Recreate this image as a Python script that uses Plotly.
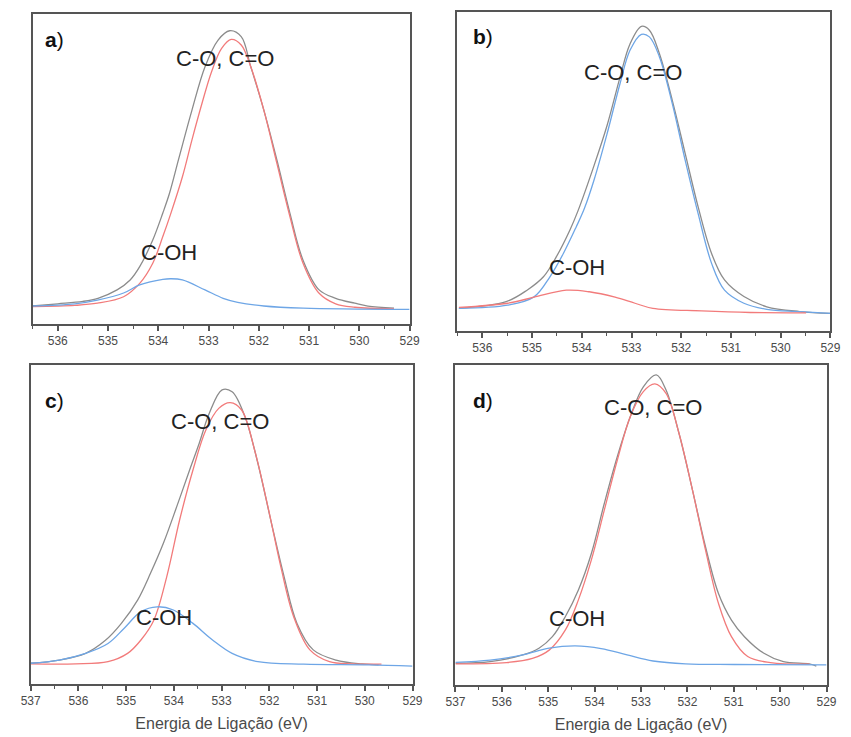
import plotly.graph_objects as go

# ---------------- Panel a ----------------
a_exp_E = [536.5, 536.0, 535.5, 535.2, 534.82, 534.56, 534.37, 534.11, 533.91, 533.78, 533.59, 533.33,
           533.07, 532.81, 532.58, 532.35, 532.16, 531.9, 531.64, 531.38, 531.12, 530.8, 530.47,
           530.09, 529.83, 529.31]
a_exp_I = [5.8, 6.5, 7.3, 8.3, 11.0, 14.2, 18.5, 27.1, 35.8, 42.0, 53.5, 69.0, 83.0, 91.6, 94.6, 92.7,
           83.0, 69.0, 52.9, 35.7, 20.6, 11.0, 8.3, 6.7, 5.8, 5.1]
a_co_E = [536.5, 535.66, 535.21, 534.69, 534.37, 534.11, 533.91, 533.75, 533.52, 533.33, 533.13, 532.94,
          532.74, 532.55, 532.35, 532.16, 531.9, 531.64, 531.38, 531.12, 530.8, 530.47, 530.09, 529.31]
a_co_I = [5.6, 6.0, 6.7, 8.8, 13.1, 19.6, 28.2, 35.7, 47.5, 59.4, 71.2, 81.4, 88.9, 91.8, 90.0, 83.0,
          69.0, 51.8, 34.6, 19.6, 9.9, 6.5, 5.4, 4.9]
a_oh_E = [536.51, 535.66, 535.21, 534.69, 534.37, 533.91, 533.75, 533.52, 533.07, 532.71, 532.42, 531.9,
          531.12, 529.0]
a_oh_I = [5.8, 6.5, 7.7, 10.0, 12.6, 14.4, 14.6, 14.2, 11.0, 8.3, 7.0, 5.8, 5.1, 4.7]

# ---------------- Panel b ----------------
b_exp_E = [536.47, 535.52, 535.1, 534.77, 534.51, 534.24, 534.08, 533.75, 533.49, 533.23, 533.03, 532.8,
           532.64, 532.44, 532.18, 531.92, 531.66, 531.39, 531.13, 530.74, 530.28, 529.62, 529.0]
b_exp_I = [7.1, 9.2, 12.8, 17.0, 23.3, 31.6, 37.5, 52.0, 64.5, 79.6, 90.0, 95.5, 94.3, 87.0, 72.3, 55.6,
           38.9, 24.3, 16.0, 10.8, 7.6, 6.1, 5.5]
b_co_E = [536.47, 535.49, 534.96, 534.64, 534.37, 534.11, 533.95, 533.75, 533.49, 533.23, 533.03, 532.8,
          532.64, 532.44, 532.18, 531.92, 531.66, 531.39, 531.13, 530.74, 530.28, 529.62, 529.0]
b_co_I = [7.1, 8.1, 10.7, 17.0, 24.3, 32.7, 38.3, 47.5, 61.9, 77.6, 88.0, 93.0, 92.2, 86.0, 71.3, 53.5,
          36.8, 21.2, 12.8, 8.7, 6.8, 6.1, 5.5]
b_oh_E = [536.47, 535.49, 534.96, 534.31, 533.85, 533.33, 532.93, 532.57, 531.59, 530.61, 529.49]
b_oh_I = [7.4, 8.7, 10.6, 12.8, 12.3, 10.6, 8.7, 7.1, 6.3, 5.8, 5.7]

# ---------------- Panel c ----------------
c_exp_E = [537.0, 536.4, 535.85, 535.44, 535.1, 534.76, 534.49, 534.22, 533.94, 533.67, 533.47, 533.26,
           532.99, 532.78, 532.51, 532.24, 531.97, 531.69, 531.42, 531.08, 530.6, 530.06, 529.71]
c_exp_I = [6.5, 7.5, 9.6, 13.6, 19.0, 26.3, 34.7, 44.1, 55.6, 67.1, 75.4, 84.8, 92.2, 91.6, 83.8, 69.2,
           51.4, 33.6, 19.0, 10.7, 7.5, 6.3, 6.0]
c_co_E = [537.0, 536.06, 535.38, 534.97, 534.69, 534.42, 534.15, 533.88, 533.6, 533.33, 533.06, 532.82,
          532.58, 532.31, 532.03, 531.76, 531.49, 531.15, 530.74, 530.26, 529.65]
c_co_I = [6.3, 6.3, 7.0, 9.6, 13.8, 20.0, 33.6, 51.4, 67.1, 79.6, 86.4, 88.2, 85.9, 73.4, 55.6, 36.8,
          21.1, 10.7, 7.0, 6.3, 6.2]
c_oh_E = [537.0, 536.4, 535.85, 535.38, 535.04, 534.69, 534.35, 534.01, 533.6, 533.19, 532.78, 532.24,
          531.28, 529.92, 529.0]
c_oh_I = [6.5, 7.5, 9.6, 12.7, 17.5, 22.7, 24.2, 23.2, 19.0, 13.8, 9.6, 7.0, 6.2, 6.0, 5.6]

# ---------------- Panel d ----------------
d_exp_E = [537.0, 536.25, 535.55, 535.2, 534.91, 534.63, 534.35, 534.07, 533.79, 533.51, 533.23, 532.95,
           532.67, 532.46, 532.18, 531.89, 531.61, 531.33, 531.05, 530.77, 530.35, 529.93, 529.37, 529.22]
d_exp_I = [6.8, 7.3, 9.4, 11.5, 15.1, 21.4, 29.7, 41.1, 56.8, 71.4, 83.9, 93.2, 96.9, 92.2, 78.6, 60.9,
           43.2, 28.6, 20.3, 15.1, 9.9, 7.3, 6.6, 5.9]
d_co_E = [537.0, 535.9, 535.34, 534.98, 534.63, 534.35, 534.07, 533.79, 533.51, 533.23, 532.95, 532.7,
          532.46, 532.18, 531.89, 531.61, 531.33, 531.05, 530.7, 530.21, 529.37]
d_co_I = [6.6, 7.0, 8.3, 10.9, 17.2, 26.6, 39.1, 54.7, 70.3, 83.9, 91.7, 94.1, 91.1, 78.6, 60.9, 42.2,
          25.5, 15.1, 8.9, 7.0, 6.5]
d_oh_E = [537.0, 536.25, 535.55, 534.98, 534.42, 533.86, 533.3, 532.74, 532.04, 530.98, 529.0]
d_oh_I = [7.1, 7.8, 9.4, 11.5, 12.2, 11.4, 9.4, 7.5, 6.6, 6.4, 6.3]

panel_letters = ["a", "b", "c", "d"]
peak_main = "C-O, C=O"
peak_oh = "C-OH"
x_title = "Energia de Ligação (eV)"
x_ranges = [[536.5, 529], [536.5, 529], [537, 529], [537, 529]]

GRAY = "#8c8c8c"
RED = "#f27b7b"
BLUE = "#6ea6e6"

W, H = 851, 737
OFF = 8  # page body margin of the browser
# pixel boxes in the window (left, top, right, bottom)
boxes = [(23, 14, 409, 324), (458, 12, 840, 331), (21, 365, 412, 684), (456, 365, 836, 685)]


def px_x(p):
    return (p - OFF) / W


def px_y(p):
    return 1 - (p - OFF) / H


fig = go.Figure()

curves = [
    [(a_exp_E, a_exp_I, GRAY), (a_co_E, a_co_I, RED), (a_oh_E, a_oh_I, BLUE)],
    [(b_exp_E, b_exp_I, GRAY), (b_co_E, b_co_I, BLUE), (b_oh_E, b_oh_I, RED)],
    [(c_exp_E, c_exp_I, GRAY), (c_co_E, c_co_I, RED), (c_oh_E, c_oh_I, BLUE)],
    [(d_exp_E, d_exp_I, GRAY), (d_co_E, d_co_I, RED), (d_oh_E, d_oh_I, BLUE)],
]

AX = "#555555"
FONT = "Liberation Sans, Arial"
for i, (box, cs, xr) in enumerate(zip(boxes, curves, x_ranges)):
    n = "" if i == 0 else str(i + 1)
    for E, I, col in cs:
        fig.add_trace(go.Scatter(x=E, y=I, mode="lines", line=dict(color=col, width=1.3, shape="spline"),
                                 xaxis="x" + n, yaxis="y" + n, showlegend=False, hoverinfo="skip"))
    l, t, r, b = box
    fig.layout["xaxis" + n] = dict(
        domain=[px_x(l), px_x(r)], anchor="y" + n, range=xr, dtick=1, tick0=529,
        ticks="outside", ticklen=5, tickwidth=1.5, tickcolor=AX,
        minor=dict(dtick=0.5, tick0=529, ticks="outside", ticklen=3, tickwidth=1.2, tickcolor=AX),
        showline=True, linecolor=AX, linewidth=1.5, mirror=True,
        showgrid=False, zeroline=False,
        tickfont=dict(family=FONT, size=12, color="#4a4a4a"),
        title=dict(text=x_title if i >= 2 else "", standoff=11,
                   font=dict(family=FONT, size=16, color="#4a4a4a")),
    )
    fig.layout["yaxis" + n] = dict(
        domain=[px_y(b), px_y(t)], anchor="x" + n, range=[0, 100],
        showticklabels=False, ticks="", showgrid=False, zeroline=False,
        showline=True, linecolor=AX, linewidth=1.5, mirror=True,
    )

# annotations (pixel centres in the window)
letter_pos = [(34, 39), (472, 36), (34, 400), (472, 400)]
main_pos = [(219.5, 58), (637.5, 72.5), (214.5, 421), (658, 407.5)]
oh_pos = [(163, 252.5), (580.5, 267.5), (157.5, 617.5), (580.5, 618.5)]

for let, (lx, ly), (mx, my), (ox, oy) in zip(panel_letters, letter_pos, main_pos, oh_pos):
    fig.add_annotation(text=f"<b>{let}</b>)", x=px_x(lx), y=px_y(ly), xref="paper", yref="paper",
                       xanchor="left", yanchor="middle", showarrow=False,
                       font=dict(family=FONT, size=21, color="#111111"))
    fig.add_annotation(text=peak_main, x=px_x(mx), y=px_y(my), xref="paper", yref="paper",
                       xanchor="center", yanchor="middle", showarrow=False,
                       font=dict(family=FONT, size=22, color="#222222"))
    fig.add_annotation(text=peak_oh, x=px_x(ox), y=px_y(oy), xref="paper", yref="paper",
                       xanchor="center", yanchor="middle", showarrow=False,
                       font=dict(family=FONT, size=22, color="#222222"))

fig.update_layout(width=W, height=H, autosize=False, margin=dict(l=0, r=0, t=0, b=0),
                  paper_bgcolor="white", plot_bgcolor="white")

fig.write_html("out.html")
